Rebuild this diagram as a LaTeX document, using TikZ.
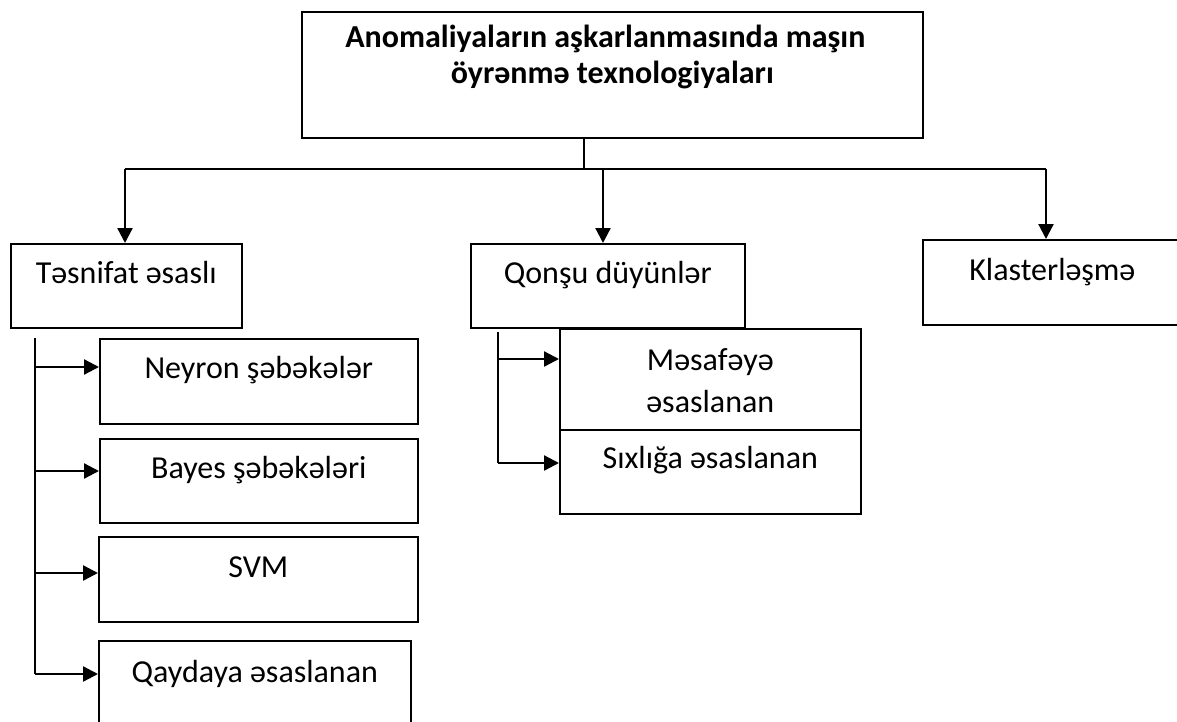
\documentclass[tikz,border=0pt]{standalone}
\usepackage{fontspec}
\setmainfont{Carlito}
\usetikzlibrary{arrows.meta}

\tikzset{
  box/.style={draw, line width=1.6pt, inner xsep=0pt, inner ysep=0pt,
    anchor=north west, align=center, font=\fontsize{32}{36}\selectfont},
  conn/.style={line width=2.3pt},
  stemline/.style={line width=1.5pt},
  arr/.style={conn, -{Triangle[length=15pt,width=15pt]}},
}

\begin{document}
\begin{tikzpicture}[x=1pt,y=-1pt]
  \useasboundingbox (0,0) rectangle (1177,722);

  % root
  \node[box, minimum width=621pt, text height=36pt, text depth=90pt,
        font=\bfseries\fontsize{32}{36}\selectfont] (root) at (301,11)
    {\begin{tabular}[t]{@{}c@{}}Anomaliyaların aşkarlanmasında maşın\hspace*{14pt}\\
     öyrənmə texnologiyaları\end{tabular}};

  % first level
  \node[box, minimum width=231pt, text height=40pt, text depth=44pt] (tes) at (10,243) {Təsnifat əsaslı};
  \node[box, minimum width=274pt, text height=40pt, text depth=44pt] (qon) at (470,243) {Qonşu düyünlər};
  \node[box, minimum width=259pt, text height=41pt, text depth=44pt] (kla) at (922,239) {Klasterləşmə};

  % classification methods
  \node[box, minimum width=318pt, text height=40pt, text depth=45pt] (ney) at (99,338) {Neyron şəbəkələr};
  \node[box, minimum width=318pt, text height=40pt, text depth=44pt] (bay) at (99,438) {Bayes şəbəkələri};
  \node[box, minimum width=319pt, text height=41pt, text depth=44pt] (svm) at (98,536) {SVM};
  \node[box, minimum width=312pt, text height=42pt, text depth=50pt] (qay) at (98,640) {Qaydaya əsaslanan};

  % nearest-neighbour methods
  \node[box, minimum width=301pt, text height=42pt, text depth=59pt] (mes) at (559,328)
    {\begin{tabular}[t]{@{}c@{}}Məsafəyə\\[6pt] əsaslanan\end{tabular}};
  \node[box, minimum width=301pt, text height=39pt, text depth=45pt] (six) at (559,429) {Sıxlığa əsaslanan};

  % distribution bar under the root
  \coordinate (j0) at (584,169);
  \coordinate (jl) at (125,169);
  \coordinate (jm) at (603,169);
  \coordinate (jr) at (1046,169);
  \draw[stemline] (root.south -| j0) -- (j0);
  \draw[conn] (jl) -- (jr);
  \draw[arr] (jl) -- (jl |- tes.north);
  \draw[arr] (jm) -- (jm |- qon.north);
  \draw[arr] (jr) -- (jr |- kla.north);

  % left branch
  \coordinate (lt) at (35,338);
  \coordinate (l1) at (35,367);
  \coordinate (l2) at (35,471);
  \coordinate (l3) at (35,573);
  \coordinate (l4) at (35,674);
  \draw[conn] (lt) -- (l4);
  \draw[arr] (l1) -- (l1 -| ney.west);
  \draw[arr] (l2) -- (l2 -| bay.west);
  \draw[arr] (l3) -- (l3 -| svm.west);
  \draw[arr] (l4) -- (l4 -| qay.west);

  % middle branch
  \coordinate (mt) at (498,332);
  \coordinate (m1) at (498,359);
  \coordinate (m2) at (498,463);
  \draw[conn] (mt) -- (m2);
  \draw[arr] (m1) -- (m1 -| mes.west);
  \draw[arr] (m2) -- (m2 -| six.west);
\end{tikzpicture}
\end{document}
